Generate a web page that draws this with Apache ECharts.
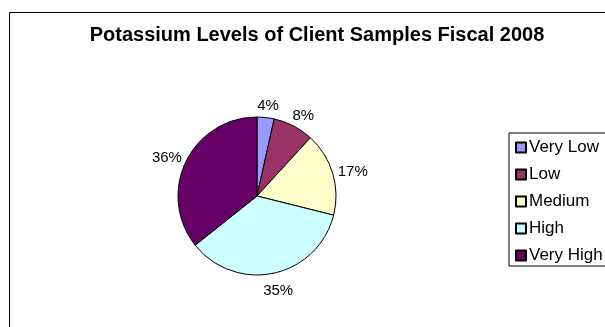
<!DOCTYPE html>
<html><head><meta charset="utf-8">
<script src="https://cdn.jsdelivr.net/npm/echarts@6/dist/echarts.min.js"></script>
<style>html,body{margin:0;padding:0;background:#fff}#c{width:605px;height:327px}</style>
</head><body><div id="c"></div>
<script>
const titleText = 'Potassium Levels of Client Samples Fiscal 2008';
const categories = ['Very Low', 'Low', 'Medium', 'High', 'Very High'];
const values = [3.5, 8.3, 17.1, 35.4, 35.7];
const colors = ['#9999FF', '#993366', '#FFFFCC', '#CCFFFF', '#660066'];

const chart = echarts.init(document.getElementById('c'), null, {renderer: 'canvas'});
const font = '"Liberation Sans", Arial, sans-serif';
const CX = 257, CY = 196, RAD = 79;
const LABEL_RX = 100, LABEL_RY = 94, LABEL_DY = 3;
const total = values.reduce((a, b) => a + b, 0);
function midAngle(i) {
  let cum = 0;
  for (let k = 0; k < i; k++) cum += values[k];
  return (cum + values[i] / 2) / total * Math.PI * 2;
}
chart.setOption({
  animation: false,
  backgroundColor: '#fff',
  graphic: [{
    type: 'rect', left: 7, top: 10, silent: true,
    shape: {width: 700, height: 400},
    style: {fill: 'none', stroke: '#000', lineWidth: 1}
  }],
  title: {
    text: titleText, left: 312, top: 20, textAlign: 'center',
    textStyle: {fontFamily: font, fontWeight: 'bold', fontSize: 20, color: '#000'}
  },
  legend: {
    orient: 'vertical', left: 509, top: 133,
    data: categories,
    icon: 'rect', itemWidth: 10, itemHeight: 10, itemGap: 10,
    padding: [6, 30, 2, 6],
    borderColor: '#000', borderWidth: 1,
    textStyle: {fontFamily: font, fontSize: 17, color: '#000', lineHeight: 16, padding: [0, 0, 0, -2]}
  },
  series: [{
    type: 'pie',
    center: [CX, CY], radius: RAD,
    startAngle: 90, clockwise: true,
    avoidLabelOverlap: false,
    data: categories.map((n, i) => ({name: n, value: values[i], itemStyle: {color: colors[i]}})),
    itemStyle: {borderColor: '#000', borderWidth: 1},
    label: {
      show: true, position: 'outside',
      formatter: p => Math.round(p.percent) + '%',
      fontFamily: font, fontSize: 15, color: '#000'
    },
    labelLine: {show: false, length: 6, length2: 0},
    labelLayout: function (p) {
      const a = midAngle(p.dataIndex);
      return {
        x: CX + LABEL_RX * Math.sin(a),
        y: CY + LABEL_DY - LABEL_RY * Math.cos(a),
        align: 'center', verticalAlign: 'middle'
      };
    },
    emphasis: {disabled: true}
  }]
});
</script></body></html>
